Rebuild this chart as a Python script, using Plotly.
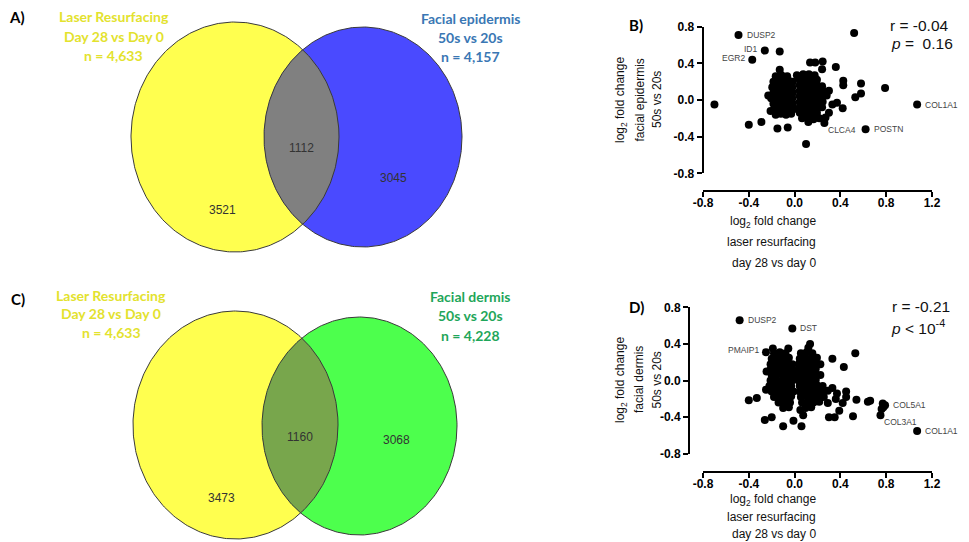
import numpy as np
import plotly.graph_objects as go

W, H = 969, 542

# ---------------- data ----------------
venn_a_counts = [3521, 1112, 3045]          # left only, both, right only
venn_c_counts = [3473, 1160, 3068]
venn_a_left_title = ["Laser Resurfacing", "Day 28 vs Day 0", "n = 4,633"]
venn_a_right_title = ["Facial epidermis", "50s vs 20s", "n = 4,157"]
venn_c_left_title = ["Laser Resurfacing", "Day 28 vs Day 0", "n = 4,633"]
venn_c_right_title = ["Facial dermis", "50s vs 20s", "n = 4,228"]

tick_vals_x = [-0.8, -0.4, 0.0, 0.4, 0.8, 1.2]
tick_text_x = ["-0.8", "-0.4", "0.0", "0.4", "0.8", "1.2"]
tick_vals_y = [-0.8, -0.4, 0.0, 0.4, 0.8]
tick_text_y = ["-0.8", "-0.4", "0.0", "0.4", "0.8"]

# panel B: laser resurfacing (x) vs facial epidermis (y)
b_x = [
    # left lobe
    -0.165, -0.115, -0.065,
    -0.185, -0.14, -0.095, -0.05, -0.015,
    -0.195, -0.145, -0.10, -0.055, -0.02,
    -0.185, -0.14, -0.095, -0.05, -0.015,
    -0.205, -0.155, -0.11, -0.065, -0.02,
    -0.185, -0.14, -0.095, -0.05, -0.015,
    -0.175, -0.13, -0.085, -0.04, -0.01,
    -0.165, -0.12, -0.075, -0.03,
    # right lobe
    0.075, 0.125, 0.175,
    0.045, 0.095, 0.145, 0.195,
    0.045, 0.095, 0.145, 0.195, 0.24,
    0.045, 0.095, 0.145, 0.195, 0.245,
    0.045, 0.095, 0.145, 0.195, 0.245, 0.28,
    0.045, 0.095, 0.145, 0.195, 0.245,
    0.045, 0.095, 0.145, 0.195, 0.24,
    0.045, 0.095, 0.145, 0.195,
    0.065, 0.115, 0.165, 0.215,
    # edges and outliers
    -0.23, -0.21, 0.27, 0.12, 0.02, 0.30,
    -0.49, -0.26, -0.13, -0.37, 0.52, -0.70, 1.07, 0.62, 0.79, 0.10,
    -0.40, -0.29, -0.15, -0.06, 0.26, 0.425, 0.425, 0.58, 0.58, 0.53,
    0.36, 0.37, 0.42, 0.33, 0.30, 0.245, 0.135, 0.18, -0.13, 0.24,
]
b_y = [
    0.26, 0.27, 0.26,
    0.20, 0.21, 0.20, 0.21, 0.20,
    0.14, 0.15, 0.14, 0.15, 0.14,
    0.08, 0.09, 0.08, 0.09, 0.08,
    0.02, 0.03, 0.02, 0.03, 0.02,
    -0.04, -0.03, -0.04, -0.03, -0.04,
    -0.10, -0.09, -0.10, -0.09, -0.10,
    -0.16, -0.15, -0.16, -0.15,
    0.28, 0.28, 0.27,
    0.22, 0.22, 0.21, 0.22,
    0.16, 0.16, 0.15, 0.16, 0.15,
    0.10, 0.10, 0.09, 0.10, 0.10,
    0.04, 0.04, 0.03, 0.04, 0.04, 0.05,
    -0.02, -0.02, -0.03, -0.02, -0.02,
    -0.08, -0.08, -0.09, -0.08, -0.08,
    -0.14, -0.14, -0.15, -0.14,
    -0.20, -0.20, -0.21, -0.20,
    0.05, -0.12, -0.19, -0.24, 0.27, 0.10,
    0.71, 0.54, 0.53, 0.44, 0.73, -0.05, -0.05, -0.32, 0.13, -0.48,
    -0.27, -0.24, -0.31, -0.30, -0.25, 0.21, 0.16, 0.18, 0.07, 0.03,
    0.36, -0.03, -0.09, -0.05, -0.14, 0.42, 0.41, 0.41, 0.33, 0.335,
]
b_labels = ["DUSP2", "ID1", "EGR2", "COL1A1", "POSTN", "CLCA4"]
b_label_x = [-0.49, -0.26, -0.37, 1.07, 0.62, 0.26]
b_label_y = [0.71, 0.54, 0.44, -0.05, -0.32, -0.25]
b_label_side = ["right", "left", "left", "right", "right", "below"]

# panel D: laser resurfacing (x) vs facial dermis (y)
d_x = [
    # left lobe
    -0.18, -0.13, -0.08,
    -0.20, -0.15, -0.10, -0.05,
    -0.21, -0.16, -0.11, -0.06, -0.02,
    -0.21, -0.16, -0.11, -0.06, -0.02,
    -0.20, -0.15, -0.10, -0.05, -0.01,
    -0.21, -0.16, -0.11, -0.06, -0.02,
    -0.22, -0.17, -0.12, -0.07, -0.03,
    -0.20, -0.15, -0.10, -0.05, -0.01,
    -0.18, -0.13, -0.08, -0.03,
    -0.14, -0.09, -0.04,
    -0.10, -0.05,
    # right lobe
    0.12,
    0.055, 0.105, 0.155,
    0.045, 0.095, 0.145, 0.195,
    0.035, 0.085, 0.135, 0.185, 0.225,
    0.035, 0.085, 0.135, 0.185,
    0.035, 0.085, 0.135, 0.185, 0.225,
    0.035, 0.085, 0.135, 0.185,
    0.045, 0.095, 0.145, 0.195, 0.245,
    0.045, 0.095, 0.145, 0.195, 0.245, 0.29,
    0.055, 0.105, 0.155, 0.205, 0.255,
    0.065, 0.115, 0.165, 0.215,
    0.095, 0.145,
    # edges and outliers
    -0.19, -0.055, 0.135, 0.33, 0.43, 0.53, -0.40, -0.33, 0.54, 0.64, 0.66,
    0.77, 0.79, 0.775, 0.76, 0.75, 1.07, 0.51, 0.35, 0.30, 0.39,
    -0.26, -0.20, -0.10, -0.01, 0.06, 0.075, 0.05, 0.45, 0.45, 0.37,
    0.42, 0.29, 0.33, 0.36, -0.48, -0.02, -0.25, -0.245, -0.25,
]
d_y = [
    0.30, 0.31, 0.30,
    0.24, 0.25, 0.24, 0.25,
    0.18, 0.19, 0.18, 0.19, 0.18,
    0.12, 0.13, 0.12, 0.13, 0.12,
    0.06, 0.07, 0.06, 0.07, 0.06,
    0.00, 0.01, 0.00, 0.01, 0.00,
    -0.06, -0.05, -0.06, -0.05, -0.06,
    -0.12, -0.11, -0.12, -0.11, -0.12,
    -0.18, -0.17, -0.18, -0.17,
    -0.24, -0.23, -0.24,
    -0.30, -0.29,
    0.36,
    0.30, 0.31, 0.30,
    0.24, 0.25, 0.24, 0.25,
    0.18, 0.19, 0.18, 0.19, 0.18,
    0.12, 0.13, 0.12, 0.13,
    0.06, 0.07, 0.06, 0.07, 0.06,
    0.00, 0.01, 0.00, 0.01,
    -0.06, -0.05, -0.06, -0.05, -0.06,
    -0.12, -0.11, -0.12, -0.11, -0.12, -0.11,
    -0.18, -0.17, -0.18, -0.17, -0.18,
    -0.24, -0.23, -0.24, -0.23,
    -0.30, -0.29,
    0.35, 0.35, 0.40, 0.24, 0.15, 0.30, -0.215, -0.19, -0.21, -0.23, -0.22,
    -0.25, -0.27, -0.29, -0.31, -0.38, -0.55, -0.39, -0.40, -0.40, -0.33,
    -0.43, -0.40, -0.50, -0.44, -0.50, -0.38, -0.32, -0.12, -0.18, -0.14,
    -0.245, -0.245, -0.08, -0.20, 0.66, 0.57, 0.31, 0.10, -0.10,
]
d_labels = ["DUSP2", "DST", "PMAIP1", "COL5A1", "COL3A1", "COL1A1"]
d_label_x = [-0.48, -0.02, -0.25, 0.79, 0.75, 1.07]
d_label_y = [0.66, 0.57, 0.31, -0.27, -0.38, -0.55]
d_label_side = ["right", "right", "left", "right", "below", "right"]

# ---------------- geometry helpers (pixel layout) ----------------
def px(x):
    return x / W

def py(y):
    return 1 - y / H

VENN_W = 0.6 * W  # venn subplot spans 0..VENN_W pixels horizontally
SANS = "Liberation Sans, Arial, sans-serif"

def ellipse_pts(cx, cy, rx, ry, t):
    return cx + rx * np.cos(t), cy + ry * np.sin(t)

def lens(e1, e2, n=721):
    t = np.linspace(-np.pi, np.pi, n)
    x1, y1 = ellipse_pts(*e1, t)
    in2 = ((x1 - e2[0]) / e2[2]) ** 2 + ((y1 - e2[1]) / e2[3]) ** 2 <= 1
    t2 = np.linspace(0, 2 * np.pi, n)
    x2, y2 = ellipse_pts(*e2, t2)
    in1 = ((x2 - e1[0]) / e1[2]) ** 2 + ((y2 - e1[1]) / e1[3]) ** 2 <= 1
    xs = np.concatenate([x1[in2], x2[in1], x1[in2][:1]])
    ys = np.concatenate([y1[in2], y2[in1], y1[in2][:1]])
    return xs, ys

fig = go.Figure()

def add_venn(e_left, e_right, c_left, c_right, c_both, counts, count_pos):
    t = np.linspace(0, 2 * np.pi, 361)
    for e, c in [(e_left, c_left), (e_right, c_right)]:
        x, y = ellipse_pts(*e, t)
        fig.add_trace(go.Scatter(x=x, y=y, mode="lines", fill="toself",
                                 fillcolor=c, line=dict(width=0),
                                 xaxis="x3", yaxis="y3", hoverinfo="skip",
                                 showlegend=False))
    lx, ly = lens(e_left, e_right)
    fig.add_trace(go.Scatter(x=lx, y=ly, mode="lines", fill="toself",
                             fillcolor=c_both, line=dict(width=0),
                             xaxis="x3", yaxis="y3", hoverinfo="skip",
                             showlegend=False))
    for e in (e_left, e_right):
        x, y = ellipse_pts(*e, t)
        fig.add_trace(go.Scatter(x=x, y=y, mode="lines",
                                 line=dict(color="#3a3a3a", width=1),
                                 xaxis="x3", yaxis="y3", hoverinfo="skip",
                                 showlegend=False))
    for n, (cx, cy) in zip(counts, count_pos):
        fig.add_annotation(x=cx, y=cy, xref="x3", yref="y3", text=str(n),
                           showarrow=False,
                           font=dict(family=SANS, size=12, color="#333333"))

# Venn A
add_venn((235, 137, 104, 115), (363, 137, 99, 110),
         "#FFFF4F", "#4A4AFF", "#808080", venn_a_counts,
         [(222.7, 210), (301.7, 148.3), (393.3, 178.3)])
# Venn C
add_venn((235.5, 425, 102.5, 114), (359.5, 426, 97.5, 109),
         "#FFFF4F", "#4DFF4D", "#78A64C", venn_c_counts,
         [(221, 498.3), (300, 436.7), (396.7, 440)])

def title_lines(lines, cx, ys, color):
    for s, yy in zip(lines, ys):
        fig.add_annotation(x=px(cx), y=py(yy), xref="paper", yref="paper",
                           text="<b>" + s + "</b>", showarrow=False,
                           xanchor="center", yanchor="middle",
                           font=dict(family="Lato", size=14, color=color))

YEL = "#E3E22E"
title_lines(venn_a_left_title, 113.5, [16.7, 36.7, 55.5], YEL)
title_lines(venn_a_right_title, 470.5, [19, 38, 56.7], "#3A77B4")
title_lines(venn_c_left_title, 111, [295, 313.5, 332.3], YEL)
title_lines(venn_c_right_title, 470, [296, 315.7, 335], "#1FA65A")

# panel letters
for s, x, y in [("A)", 17, 17), ("B)", 635.5, 25), ("C)", 18, 299), ("D)", 636.5, 307)]:
    fig.add_annotation(x=px(x), y=py(y), xref="paper", yref="paper",
                       text="<b>" + s + "</b>", showarrow=False,
                       xanchor="center", yanchor="middle",
                       font=dict(family="Lato", size=15, color="black"))

# scatter traces
fig.add_trace(go.Scatter(x=b_x, y=b_y, mode="markers", xaxis="x", yaxis="y",
                         marker=dict(size=8, color="black"), showlegend=False,
                         cliponaxis=False))
fig.add_trace(go.Scatter(x=d_x, y=d_y, mode="markers", xaxis="x2", yaxis="y2",
                         marker=dict(size=8, color="black"), showlegend=False,
                         cliponaxis=False))

LBL_FONT = dict(family=SANS, size=8.5, color="#444444")

def add_point_labels(names, xs, ys, sides, xr, yr):
    for n, x, y, s in zip(names, xs, ys, sides):
        if s == "right":
            kw = dict(xanchor="left", xshift=6, yshift=0)
        elif s == "left":
            kw = dict(xanchor="right", xshift=-5, yshift=2)
        else:
            kw = dict(xanchor="left", xshift=2, yshift=-7)
        fig.add_annotation(x=x, y=y, xref=xr, yref=yr, text=n, showarrow=False,
                           yanchor="middle", font=LBL_FONT, **kw)

add_point_labels(b_labels, b_label_x, b_label_y, b_label_side, "x", "y")
add_point_labels(d_labels, d_label_x, d_label_y, d_label_side, "x2", "y2")

# axis titles & stats text
TFONT = dict(family=SANS, size=12, color="#111111")

def xtitle(ys):
    for s, yy in zip(["log<sub>2</sub> fold change", "laser resurfacing", "day 28 vs day 0"], ys):
        fig.add_annotation(x=px(818), y=py(yy), xref="paper", yref="paper", text=s,
                           showarrow=False, font=TFONT, yanchor="middle")

def ytitle(lines, xs, cy):
    for s, xx in zip(lines, xs):
        fig.add_annotation(x=px(xx), y=py(cy), xref="paper", yref="paper", text=s,
                           showarrow=False, font=TFONT, textangle=-90,
                           xanchor="center", yanchor="middle")

xtitle([222.5, 242, 263.3])
xtitle([500, 516.5, 534])
ytitle(["log<sub>2</sub> fold change", "facial epidermis", "50s vs 20s"], [621, 639.5, 657], 100)
ytitle(["log<sub>2</sub> fold change", "facial dermis", "50s vs 20s"], [621, 639, 656.5], 380)

SFONT = dict(family=SANS, size=15.5, color="#111111")
for s, x, y in [("r = -0.04", 888, 25), ("<i>p</i> =  0.16", 889, 43.5),
                ("r = -0.21", 890, 306.7), ("<i>p</i> < 10<sup>-4</sup>", 888.5, 327)]:
    fig.add_annotation(x=px(x), y=py(y), xref="paper", yref="paper", text=s,
                       showarrow=False, xanchor="left", yanchor="middle", font=SFONT)

axis_common = dict(showline=True, linecolor="black", linewidth=2, ticks="outside",
                   ticklen=5, tickwidth=2, tickcolor="black", showgrid=False,
                   zeroline=False, fixedrange=True, automargin=False,
                   tickfont=dict(family=SANS, size=12, color="black", weight="bold"))

def xax(pos_y):
    return dict(domain=[px(703), px(932)], range=[-0.8, 1.2], anchor="free",
                position=py(pos_y), tickvals=tick_vals_x, ticklabelstandoff=-4,
                ticktext=tick_text_x, **axis_common)

def yax(top, bottom, pos_x):
    return dict(domain=[py(bottom), py(top)], range=[-0.8, 0.8], anchor="free",
                position=px(pos_x), tickvals=tick_vals_y,
                ticktext=tick_text_y, **axis_common)

fig.update_layout(
    width=W, height=H, margin=dict(l=0, r=0, t=0, b=0, pad=0, autoexpand=False),
    paper_bgcolor="white", plot_bgcolor="rgba(0,0,0,0)",
    xaxis=xax(190.7), yaxis=yax(26.7, 173.3, 702.7),
    xaxis2=xax(471.7), yaxis2=yax(307.4, 453.8, 689),
    xaxis3=dict(domain=[0, 0.6], range=[0, VENN_W], visible=False, fixedrange=True,
                automargin=False),
    yaxis3=dict(domain=[0, 1], range=[H, 0], visible=False, fixedrange=True,
                automargin=False),
    showlegend=False,
)

fig.write_html("out.html", config={"displayModeBar": False},
               post_script="document.body.style.margin='0';document.body.style.padding='0';")
